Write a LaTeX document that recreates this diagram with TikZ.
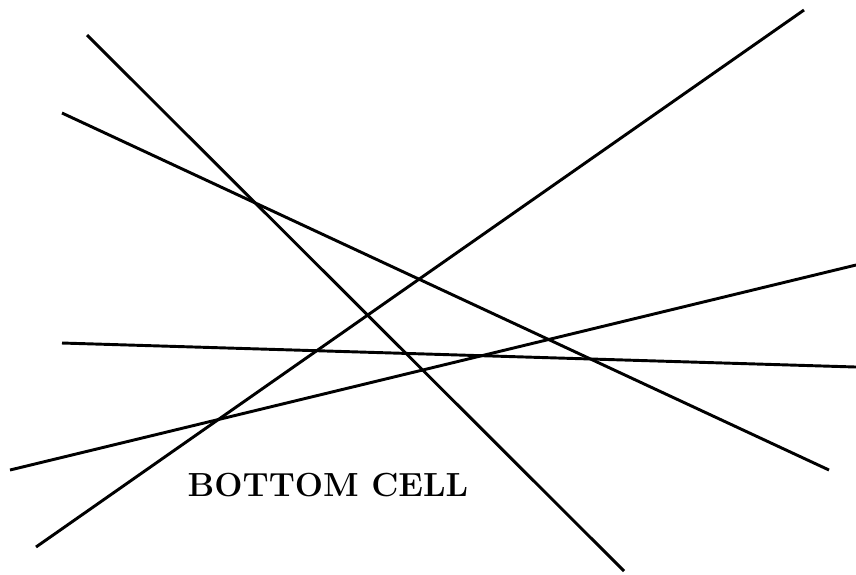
\documentclass[tikz,border=0pt]{standalone}
\usepackage{tikz}
\usetikzlibrary{calc, positioning}

\begin{document}
\begin{tikzpicture}[x=0.012cm, y=-0.012cm]

    % =================================================================
    % 1. FRAME
    % =================================================================
    \useasboundingbox (0,0) rectangle (856,574);

    % =================================================================
    % 2. END POINTS OF THE LINES
    % =================================================================
    \coordinate (P1a) at (87,35);
    \coordinate (P1b) at (624,571);

    \coordinate (P2a) at (62,113);
    \coordinate (P2b) at (829,470);

    \coordinate (P3a) at (36,547);
    \coordinate (P3b) at (804,10);

    \coordinate (P4a) at (10,470);
    \coordinate (P4b) at (856,265);

    \coordinate (P5a) at (62,343);
    \coordinate (P5b) at (856,367);

    % =================================================================
    % 3. THE LINES
    % =================================================================
    \draw[line width=1pt] (P1a) -- (P1b);
    \draw[line width=1pt] (P2a) -- (P2b);
    \draw[line width=1pt] (P3a) -- (P3b);
    \draw[line width=1pt] (P4a) -- (P4b);
    \draw[line width=1pt] (P5a) -- (P5b);

    % =================================================================
    % 4. LABEL
    % =================================================================
    \node[anchor=base, inner sep=0pt] (cell) at (328,496)
        {\fontsize{11.4}{13}\selectfont\bfseries BOTTOM CELL};

\end{tikzpicture}
\end{document}
